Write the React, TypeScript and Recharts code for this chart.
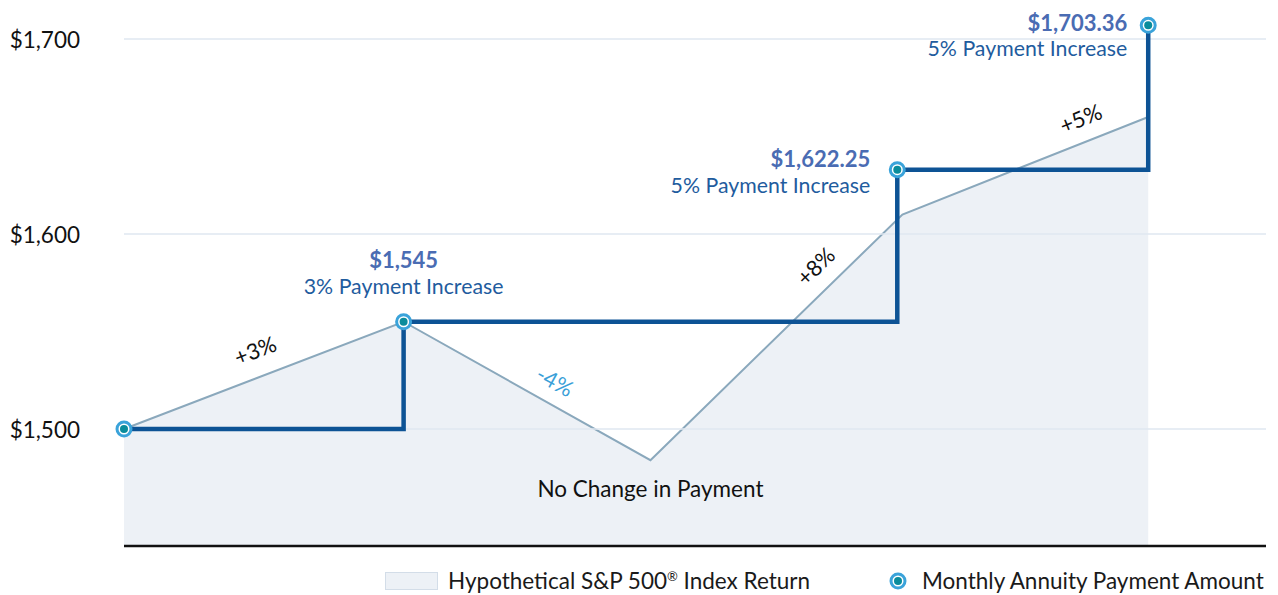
import {
  ComposedChart,
  Area,
  Line,
  XAxis,
  YAxis,
  LabelList,
  ReferenceDot,
  ReferenceLine,
} from "recharts";

// x is in years from the start of the illustration
const indexYears = [0, 2.73, 5.14, 7.6, 10];
const indexValues = [1500, 1555, 1484, 1610, 1660];

const paymentYears = [0, 2.73, 7.55, 10];
const paymentValues = [1500, 1555, 1633, 1707];
const paymentAmounts = ["", "$1,545", "$1,622.25", "$1,703.36"];
const paymentNotes = [
  "",
  "3% Payment Increase",
  "5% Payment Increase",
  "5% Payment Increase",
];

const yTicks = [1500, 1600, 1700];
const yTickLabels = ["$1,500", "$1,600", "$1,700"];

const returnLabels = ["+3%", "-4%", "+8%", "+5%"];
const returnLabelYears = [1.28, 4.21, 6.75, 9.34];
const returnLabelValues = [1540.5, 1524.6, 1583.6, 1659.5];

const indexData = indexYears.map((x, i) => ({ x, value: indexValues[i] }));
const paymentData = paymentYears.map((x, i) => ({
  x,
  value: paymentValues[i],
  amount: paymentAmounts[i],
  note: paymentNotes[i],
}));

const FONT = "Lato, 'Open Sans', sans-serif";
const STEP = "#0d5395";
const RING = "#3aa3da";
const CORE = "#0a8c9c";

// rotation / colour for each return label
const returnStyle = [
  { angle: -21, color: "#111" },
  { angle: 29, color: "#3a9fd8" },
  { angle: -44, color: "#111" },
  { angle: -22, color: "#111" },
];

// eslint-disable-next-line @typescript-eslint/no-explicit-any
const PaymentDot = (props: any) => {
  const { cx, cy } = props;
  if (cx == null || cy == null) return null;
  return (
    <g>
      <circle cx={cx} cy={cy} r={7} fill="#fff" stroke={RING} strokeWidth={3} />
      <circle cx={cx} cy={cy} r={4} fill={CORE} />
    </g>
  );
};

// eslint-disable-next-line @typescript-eslint/no-explicit-any
const YTick = (props: any) => {
  const { y, payload } = props;
  const i = yTicks.indexOf(payload.value);
  return (
    <text
      x={80}
      y={y}
      textAnchor="end"
      dominantBaseline="central"
      fontFamily={FONT}
      fontSize={22.5}
      fill="#111"
    >
      {yTickLabels[i]}
    </text>
  );
};

// eslint-disable-next-line @typescript-eslint/no-explicit-any
const PaymentLabel = (props: any) => {
  const { x, y, index } = props;
  const amount = paymentAmounts[index];
  if (!amount) return null;
  const first = index === 1;
  const anchor = first ? "middle" : "end";
  const tx = first ? x : x - (index === 2 ? 27 : 21);
  const y1 = first ? y - 62 : y - (index === 2 ? 11 : 3);
  const y2 = y1 + 26;
  return (
    <g fontFamily={FONT}>
      <text
        x={tx}
        y={y1}
        textAnchor={anchor}
        dominantBaseline="central"
        fontSize={22}
        fontWeight={700}
        fill="#4a6cb3"
      >
        {amount}
      </text>
      <text
        x={tx}
        y={y2}
        textAnchor={anchor}
        dominantBaseline="central"
        fontSize={21.3}
        fill="#1f5c9e"
      >
        {paymentNotes[index]}
      </text>
    </g>
  );
};

const legendText = {
  position: "absolute" as const,
  top: 568,
  fontSize: 22.5,
  lineHeight: "26px",
  color: "#1a1a1a",
  whiteSpace: "nowrap" as const,
};

export default function App() {
  return (
    <div
      style={{
        position: "absolute",
        left: 0,
        top: 0,
        width: 1278,
        height: 595,
        fontFamily: FONT,
        background: "#fff",
      }}
    >
      <ComposedChart
        width={1278}
        height={595}
        margin={{ top: 0, right: 12, bottom: 0, left: 0 }}
      >
        <XAxis
          type="number"
          dataKey="x"
          domain={[0, 11.15]}
          height={49}
          tick={false}
          tickLine={false}
          axisLine={{ stroke: "#111", strokeWidth: 2.5 }}
        />
        <YAxis
          type="number"
          domain={[1440, 1720]}
          ticks={yTicks}
          width={124}
          axisLine={false}
          tickLine={false}
          tick={<YTick />}
        />
        {yTicks.map((t) => (
          <ReferenceLine key={t} y={t} stroke="#dfe7f0" strokeWidth={1.5} />
        ))}
        <Area
          data={indexData}
          dataKey="value"
          type="linear"
          fill="#edf1f6"
          fillOpacity={1}
          stroke="#8aa8bc"
          strokeWidth={2}
          isAnimationActive={false}
        />
        <Line
          data={paymentData}
          dataKey="value"
          type="stepAfter"
          stroke={STEP}
          strokeWidth={4.5}
          dot={<PaymentDot />}
          activeDot={false}
          isAnimationActive={false}
        >
          <LabelList dataKey="amount" content={<PaymentLabel />} />
        </Line>
        {returnLabels.map((t, i) => (
          <ReferenceDot
            key={t}
            x={returnLabelYears[i]}
            y={returnLabelValues[i]}
            ifOverflow="visible"
            // eslint-disable-next-line @typescript-eslint/no-explicit-any
            shape={(p: any) => (
              <text
                x={p.cx}
                y={p.cy}
                textAnchor="middle"
                dominantBaseline="central"
                fontFamily={FONT}
                fontSize={22}
                fill={returnStyle[i].color}
                transform={`rotate(${returnStyle[i].angle} ${p.cx} ${p.cy})`}
              >
                {t}
              </text>
            )}
          />
        ))}
        <ReferenceDot
          x={5.14}
          y={1469.7}
          ifOverflow="visible"
          // eslint-disable-next-line @typescript-eslint/no-explicit-any
          shape={(p: any) => (
            <text
              x={p.cx}
              y={p.cy}
              textAnchor="middle"
              dominantBaseline="central"
              fontFamily={FONT}
              fontSize={22.5}
              fill="#111"
            >
              No Change in Payment
            </text>
          )}
        />
      </ComposedChart>

      {/* legend */}
      <div
        style={{
          position: "absolute",
          top: 572,
          left: 385,
          width: 51,
          height: 16,
          background: "#edf1f6",
          border: "1px solid #d3dde8",
        }}
      />
      <div style={{ ...legendText, left: 448 }}>
        Hypothetical S&amp;P 500
        <sup style={{ fontSize: 13, lineHeight: 0 }}>®</sup> Index Return
      </div>
      <svg
        width={22}
        height={22}
        style={{ position: "absolute", left: 887, top: 570 }}
      >
        <circle cx={11} cy={11} r={7} fill="#fff" stroke={RING} strokeWidth={3} />
        <circle cx={11} cy={11} r={4} fill={CORE} />
      </svg>
      <div style={{ ...legendText, left: 922 }}>Monthly Annuity Payment Amount</div>
    </div>
  );
}
